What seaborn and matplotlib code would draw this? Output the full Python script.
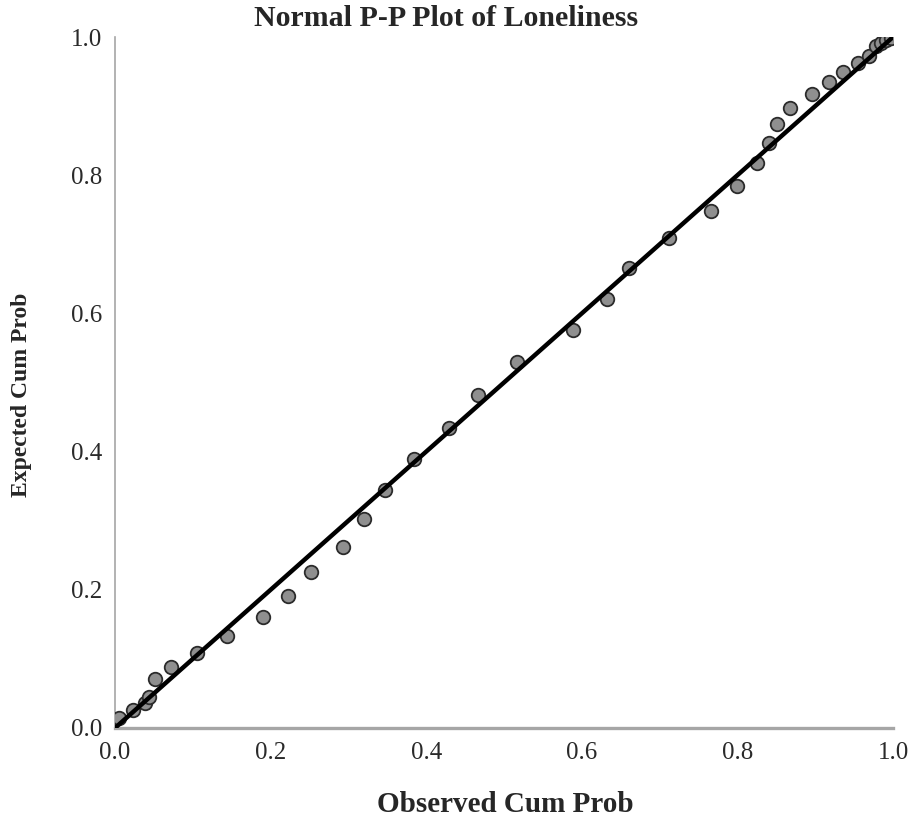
import numpy as np
import pandas as pd
import matplotlib
matplotlib.use("Agg")
import matplotlib.pyplot as plt
import seaborn as sns

# observed vs expected cumulative probabilities
observed = [0.005, 0.023, 0.039, 0.044, 0.051, 0.072, 0.105, 0.144, 0.190, 0.222,
            0.252, 0.293, 0.320, 0.347, 0.384, 0.429, 0.467, 0.517, 0.589, 0.632,
            0.661, 0.712, 0.766, 0.799, 0.825, 0.841, 0.851, 0.868, 0.896, 0.918,
            0.936, 0.955, 0.969, 0.978, 0.985, 0.991, 0.997]
expected = [0.014, 0.026, 0.036, 0.045, 0.071, 0.088, 0.109, 0.133, 0.161, 0.191,
            0.226, 0.262, 0.302, 0.344, 0.389, 0.434, 0.482, 0.530, 0.576, 0.621,
            0.666, 0.709, 0.748, 0.784, 0.818, 0.847, 0.874, 0.897, 0.917, 0.935,
            0.949, 0.962, 0.972, 0.987, 0.991, 0.996, 0.999]
diag = [0.0, 1.0]
ticks = [0.0, 0.2, 0.4, 0.6, 0.8, 1.0]
tick_labels = ["0.0", "0.2", "0.4", "0.6", "0.8", "1.0"]

df = pd.DataFrame({"observed": observed, "expected": expected})

sns.set_style("white")
plt.rcParams["font.family"] = ["Liberation Serif", "DejaVu Serif"]

fig = plt.figure(figsize=(9.17, 8.25), dpi=100)
ax = fig.add_axes([115 / 917, 97 / 825, 778 / 917, 691 / 825])

sns.scatterplot(data=df, x="observed", y="expected", ax=ax, s=95,
                color="#8f8f8f", edgecolor="#2b2b2b", linewidth=1.3, zorder=3)
ax.plot(diag, diag, color="black", lw=3.2, zorder=4, solid_capstyle="butt")

ax.set_xlim(0, 1)
ax.set_ylim(0, 1)
ax.set_xticks(ticks)
ax.set_xticklabels(tick_labels)
ax.set_yticks(ticks)
ax.set_yticklabels(tick_labels)
ax.tick_params(axis="both", length=0, labelsize=18, colors="#2a2a2a")
ax.tick_params(axis="x", pad=10)
ax.tick_params(axis="y", pad=9)

for side in ["top", "right"]:
    ax.spines[side].set_visible(False)
ax.spines["bottom"].set_color("#a6a6a6")
ax.spines["bottom"].set_linewidth(2.4)
ax.spines["left"].set_color("#a6a6a6")
ax.spines["left"].set_linewidth(1.2)
for sp in ax.spines.values():
    sp.set_clip_on(False)

ax.set_xlabel("")
ax.set_ylabel("")
fig.text(505 / 917, 1 - 804 / 825, "Observed Cum Prob", ha="center", va="center",
         fontsize=21, fontweight="bold")
fig.text(22 / 917, 1 - 395 / 825, "Expected Cum Prob", ha="center", va="center",
         fontsize=17, fontweight="bold", rotation=90)
fig.text(446 / 917, 1 - 18 / 825, "Normal P-P Plot of Loneliness", ha="center",
         va="center", fontsize=21.5, fontweight="bold")

fig.savefig("out.png", dpi=100)
